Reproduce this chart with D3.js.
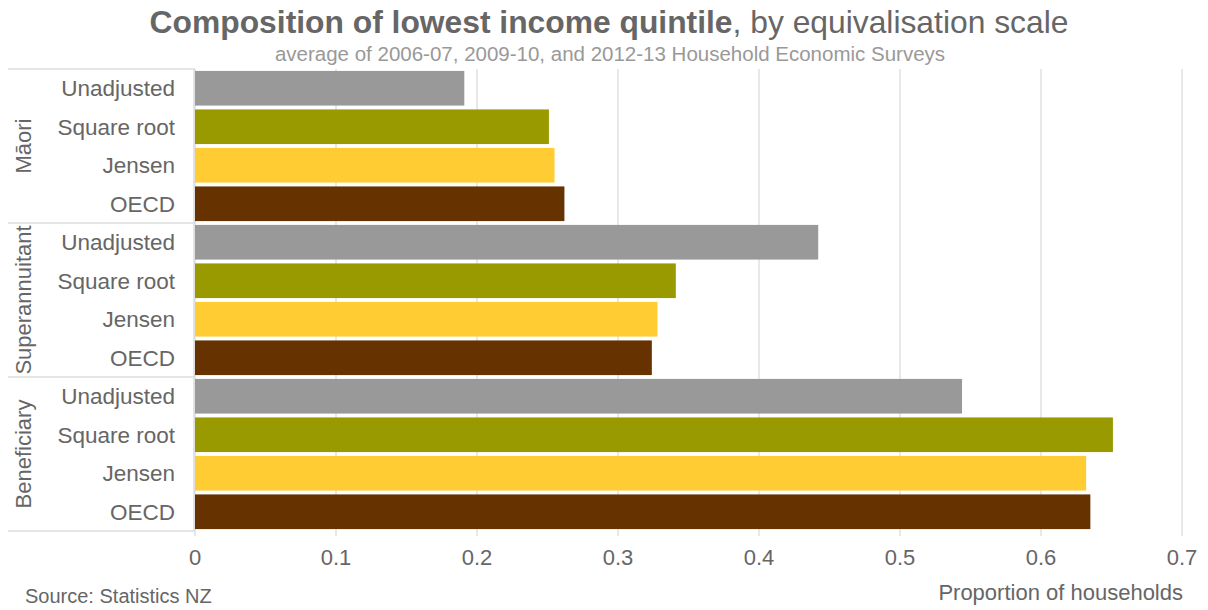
<!DOCTYPE html>
<html>
<head>
<meta charset="utf-8">
<script src="https://cdnjs.cloudflare.com/ajax/libs/d3/7.8.5/d3.min.js"></script>
<style>
  body { margin: 0; background: #fff; }
  text { font-family: "Liberation Sans", Arial, sans-serif; }
</style>
</head>
<body>
<div id="container"></div>
<script>
// data
let groups = ["Māori", "Superannuitant", "Beneficiary"];
let scales = ["Unadjusted", "Square root", "Jensen", "OECD"];
let maoriValues = [0.191, 0.251, 0.255, 0.262];
let superValues = [0.442, 0.341, 0.328, 0.324];
let benefValues = [0.544, 0.651, 0.632, 0.635];
let tickValues = [0, 0.1, 0.2, 0.3, 0.4, 0.5, 0.6, 0.7];
let scaleColours = ["#999999", "#999900", "#FFCC33", "#663300"];

let w = 1208;
let h = 610;
let textCol = "#666666";

let viz = d3.select("#container")
  .append("svg")
    .attr("width", w)
    .attr("height", h)
;

let plotLeft = 195, plotRight = 1182, plotTop = 69, plotBottom = 531;
let stripLeft = 8;

let x = d3.scaleLinear().domain([0, 0.7]).range([plotLeft, plotRight]);
let yGroup = d3.scaleBand().domain(groups).range([plotTop, plotBottom]);
let yBar = d3.scaleBand().domain(scales).range([0, yGroup.bandwidth()]).paddingInner(0.1).paddingOuter(0.05);
let colour = d3.scaleOrdinal().domain(scales).range(scaleColours);

let allValues = [maoriValues, superValues, benefValues];
let rows = [];
groups.forEach(function(g, gi) {
  scales.forEach(function(s, si) {
    rows.push({ group: g, scale: s, value: allValues[gi][si] });
  });
});

// gridlines
viz.append("g").selectAll("line").data(tickValues).enter()
  .append("line")
    .attr("x1", d => x(d)).attr("x2", d => x(d))
    .attr("y1", plotTop).attr("y2", plotBottom + 5)
    .attr("stroke", "#e0e0e0")
    .attr("stroke-width", 1.5)
;

// strip boxes
viz.append("g").selectAll("line").data(groups.concat(["end"])).enter()
  .append("line")
    .attr("x1", stripLeft).attr("x2", plotLeft)
    .attr("y1", d => d == "end" ? plotBottom : yGroup(d))
    .attr("y2", d => d == "end" ? plotBottom : yGroup(d))
    .attr("stroke", "#dddddd")
    .attr("stroke-width", 1.5)
;
viz.append("line")
  .attr("x1", plotLeft - 1).attr("x2", plotLeft - 1)
  .attr("y1", plotTop).attr("y2", plotBottom)
  .attr("stroke", "#dddddd")
  .attr("stroke-width", 1.5)
;

// bars
viz.append("g").selectAll("rect").data(rows).enter()
  .append("rect")
    .attr("x", x(0))
    .attr("y", d => yGroup(d.group) + yBar(d.scale))
    .attr("width", d => x(d.value) - x(0))
    .attr("height", yBar.bandwidth())
    .attr("fill", d => colour(d.scale))
;

// category labels
viz.append("g").selectAll("text").data(rows).enter()
  .append("text")
    .attr("x", 175)
    .attr("y", d => yGroup(d.group) + yBar(d.scale) + yBar.bandwidth() / 2)
    .attr("dy", "0.35em")
    .attr("text-anchor", "end")
    .attr("font-size", 22.5)
    .attr("fill", textCol)
    .text(d => d.scale)
;

// strip labels
viz.append("g").selectAll("text").data(groups).enter()
  .append("text")
    .attr("transform", d => "translate(" + 23 + "," + (yGroup(d) + yGroup.bandwidth() / 2) + ") rotate(-90)")
    .attr("dy", "0.35em")
    .attr("text-anchor", "middle")
    .attr("font-size", 22)
    .attr("fill", textCol)
    .text(d => d)
;

// x axis tick labels
viz.append("g").selectAll("text").data(tickValues).enter()
  .append("text")
    .attr("x", d => x(d))
    .attr("y", 565)
    .attr("text-anchor", "middle")
    .attr("font-size", 22)
    .attr("fill", textCol)
    .text(d => d3.format("~g")(d))
;

viz.append("text")
  .attr("x", 1183).attr("y", 600)
  .attr("text-anchor", "end")
  .attr("font-size", 22)
  .attr("fill", textCol)
  .text("Proportion of households");

viz.append("text")
  .attr("x", 25).attr("y", 603)
  .attr("font-size", 20)
  .attr("fill", textCol)
  .text("Source: Statistics NZ");

// title
let title = viz.append("text")
  .attr("x", 609).attr("y", 33)
  .attr("text-anchor", "middle")
  .attr("font-size", 31.8)
  .attr("fill", textCol);
title.append("tspan").attr("font-weight", "bold").text("Composition of lowest income quintile");
title.append("tspan").text(", by equivalisation scale");

viz.append("text")
  .attr("x", 610).attr("y", 61)
  .attr("text-anchor", "middle")
  .attr("font-size", 20.5)
  .attr("fill", "#999999")
  .text("average of 2006-07, 2009-10, and 2012-13 Household Economic Surveys");
</script>
</body>
</html>
